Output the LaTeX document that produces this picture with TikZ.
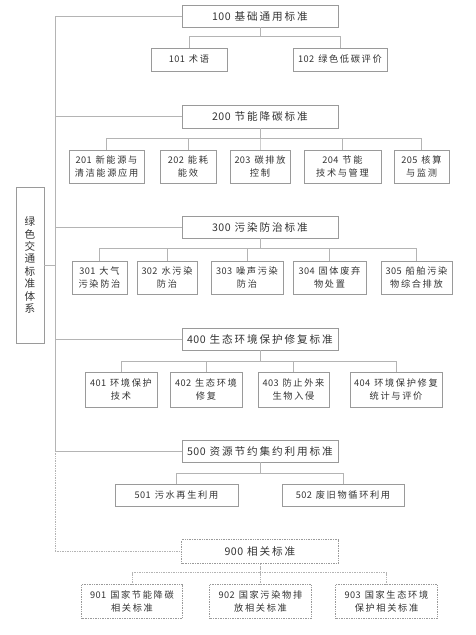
\documentclass[tikz,border=0pt]{standalone}
\usepackage{fontspec}
\setmainfont{Noto Sans CJK SC}[LetterSpace=18]
\usetikzlibrary{positioning}
\definecolor{bdgray}{HTML}{9A9A9A}
\definecolor{lngray}{HTML}{B4B4B4}
\definecolor{txgray}{HTML}{333333}
\newcommand{\code}[1]{{\addfontfeature{LetterSpace=4}#1}\hspace{4pt}}

\begin{document}
\begin{tikzpicture}[
  x=1pt, y=-1pt,
  box/.style={
    draw=bdgray, line width=0.7pt, fill=white,
    font=\fontsize{9.2}{13}\selectfont, text=txgray,
    align=center, inner sep=1pt
  },
  head/.style={box, font=\fontsize{10.6}{13}\selectfont,
    minimum width=156pt, minimum height=22pt},
  kid/.style={box, minimum height=33pt},
  line/.style={draw=lngray, line width=0.7pt},
  dotline/.style={line, densely dotted},
]
  \useasboundingbox[fill=white] (0,0) rectangle (476,635);

  % Root column (left)
  \node[box, minimum width=28pt, minimum height=156pt,
    font=\fontsize{10.6}{12.4}\selectfont] (root) at (30,265)
    {绿\\色\\交\\通\\标\\准\\体\\系};
  \coordinate (trunk) at (55,0);

  % 100
  \node[head] (s100) at (260,16) {\code{100}基础通用标准};
  \node[box, minimum width=76pt, minimum height=23pt] (c101) at (189,59.5) {\code{101}术语};
  \node[box, minimum width=94pt, minimum height=23pt] (c102) at (340,59.5) {\code{102}绿色低碳评价};

  % 200
  \node[head, minimum height=23pt] (s200) at (260,116.5) {\code{200}节能降碳标准};
  \node[kid, minimum width=75pt] (c201) at (106.5,166.5) {\code{201}新能源与\\清洁能源应用};
  \node[kid, minimum width=56pt] (c202) at (188,166.5) {\code{202}能耗\\能效};
  \node[kid, minimum width=60pt] (c203) at (260,166.5) {\code{203}碳排放\\控制};
  \node[kid, minimum width=77pt] (c204) at (342.5,166.5) {\code{204}节能\\技术与管理};
  \node[kid, minimum width=55pt] (c205) at (421.5,166.5) {\code{205}核算\\与监测};

  % 300
  \node[head] (s300) at (260,227) {\code{300}污染防治标准};
  \node[kid, minimum width=55pt] (c301) at (99.5,277.5) {\code{301}大气\\污染防治};
  \node[kid, minimum width=60pt] (c302) at (167,277.5) {\code{302}水污染\\防治};
  \node[kid, minimum width=72pt] (c303) at (247,277.5) {\code{303}噪声污染\\防治};
  \node[kid, minimum width=73pt] (c304) at (329.5,277.5) {\code{304}固体废弃\\物处置};
  \node[kid, minimum width=71pt] (c305) at (416.5,277.5) {\code{305}船舶污染\\物综合排放};

  % 400
  \node[head] (s400) at (260,339) {\code{400}生态环境保护修复标准};
  \node[kid, minimum width=72pt, minimum height=35pt] (c401) at (121,389.5) {\code{401}环境保护\\技术};
  \node[kid, minimum width=72pt, minimum height=35pt] (c402) at (206,389.5) {\code{402}生态环境\\修复};
  \node[kid, minimum width=71pt, minimum height=35pt] (c403) at (293.5,389.5) {\code{403}防止外来\\生物入侵};
  \node[kid, minimum width=92pt, minimum height=35pt] (c404) at (396,389.5) {\code{404}环境保护修复\\统计与评价};

  % 500
  \node[head] (s500) at (260,451) {\code{500}资源节约集约利用标准};
  \node[box, minimum width=123pt, minimum height=22pt] (c501) at (176.5,495) {\code{501}污水再生利用};
  \node[box, minimum width=122pt, minimum height=22pt] (c502) at (343,495) {\code{502}废旧物循环利用};

  % 900 (dotted)
  \node[head, draw=none, minimum height=23pt] (s900) at (260,551.5) {\code{900}相关标准};
  \draw[dotline, draw=bdgray] (s900.south west) rectangle (s900.north east);
  \node[kid, draw=none, minimum width=100pt] (c901) at (132,601.5) {\code{901}国家节能降碳\\相关标准};
  \node[kid, draw=none, minimum width=101pt] (c902) at (260.5,601.5) {\code{902}国家污染物排\\放相关标准};
  \node[kid, draw=none, minimum width=101pt] (c903) at (386.5,601.5) {\code{903}国家生态环境\\保护相关标准};
  \foreach \c in {c901,c902,c903}
    \draw[dotline, draw=bdgray] (\c.south west) rectangle (\c.north east);

  % Trunk and section links
  \draw[line] (root.east) -- (root.east -| trunk);
  \draw[line] (s100.west) -- (s100.west -| trunk) -- (s500.west -| trunk) -- (s500.west);
  \foreach \s in {s200,s300,s400}
    \draw[line] (\s.west) -- (\s.west -| trunk);
  \draw[dotline] (s500.west -| trunk) |- (s900.west);

  % Section to item links
  \foreach \c in {c101,c102}
    \draw[line] (\c.north) -- ++(0,-11) -| (s100.south);
  \foreach \c in {c201,c202,c203,c204,c205}
    \draw[line] (\c.north) -- ++(0,-11) -| (s200.south);
  \foreach \c in {c301,c302,c303,c304,c305}
    \draw[line] (\c.north) -- ++(0,-12) -| (s300.south);
  \foreach \c in {c401,c402,c403,c404}
    \draw[line] (\c.north) -- ++(0,-10) -| (s400.south);
  \foreach \c in {c501,c502}
    \draw[line] (\c.north) -- ++(0,-10) -| (s500.south);
  \foreach \c in {c901,c902,c903}
    \draw[dotline] (\c.north) -- ++(0,-12) -| (s900.south);

\end{tikzpicture}
\end{document}
